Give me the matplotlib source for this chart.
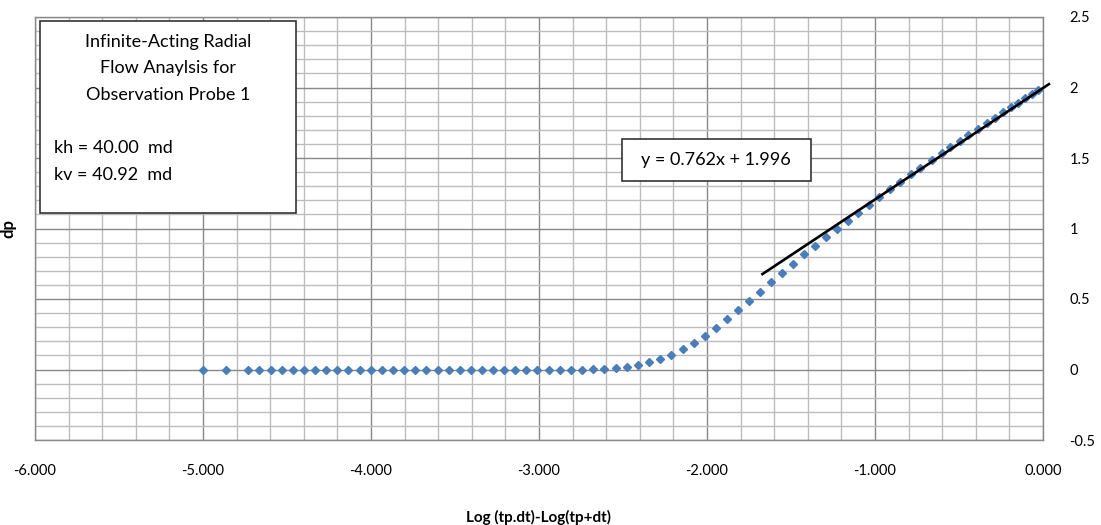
import numpy as np
import matplotlib.pyplot as plt
from matplotlib.patches import Rectangle
from matplotlib.ticker import MultipleLocator, FormatStrFormatter, FuncFormatter

plt.rcParams['font.family'] = ['Lato', 'DejaVu Sans']

x_flat = [-5.000, -4.863, -4.730, -4.664, -4.597, -4.531, -4.465, -4.399, -4.333,
          -4.266, -4.200, -4.134, -4.068, -4.002, -3.935, -3.869, -3.803, -3.737,
          -3.671, -3.604, -3.538, -3.472, -3.406, -3.340, -3.273, -3.207, -3.141,
          -3.075, -3.009, -2.942, -2.876, -2.810, -2.744, -2.677, -2.611]
y_flat = [0.0] * 33 + [0.003, 0.006]

x_rise = [-2.542, -2.474, -2.409, -2.343, -2.280, -2.212, -2.145, -2.077, -2.012,
          -1.946, -1.883, -1.816, -1.749, -1.684, -1.618, -1.554, -1.488, -1.423,
          -1.357, -1.292, -1.228, -1.163, -1.099, -1.036, -0.974, -0.911, -0.851,
          -0.788, -0.732, -0.663, -0.603, -0.554, -0.494, -0.444, -0.385, -0.335,
          -0.286, -0.236, -0.188, -0.147, -0.107, -0.068, -0.028]
y_rise = [0.012, 0.021, 0.030, 0.052, 0.076, 0.104, 0.142, 0.189, 0.236,
          0.293, 0.358, 0.419, 0.483, 0.550, 0.620, 0.686, 0.750, 0.816,
          0.877, 0.939, 0.998, 1.055, 1.113, 1.168, 1.220, 1.277, 1.328,
          1.388, 1.430, 1.485, 1.535, 1.575, 1.622, 1.662, 1.708, 1.748,
          1.787, 1.825, 1.862, 1.893, 1.925, 1.955, 1.985]

x_pts = np.array(x_flat + x_rise)
y_pts = np.array(y_flat + y_rise)

# trend line as drawn on the chart
trend_x = np.array([-1.67, 0.035])
trend_slope = 0.79
trend_icpt = 1.996
eq_label = 'y = 0.762x + 1.996'

W, H = 1101, 525
fig = plt.figure(figsize=(W / 100, H / 100), dpi=100)
ax = fig.add_axes([35 / W, 85 / H, 1008 / W, 423 / H])

ax.set_xlim(-6, 0)
ax.set_ylim(-0.5, 2.5)
ax.xaxis.set_major_locator(MultipleLocator(1))
ax.xaxis.set_minor_locator(MultipleLocator(0.2))
ax.yaxis.set_major_locator(MultipleLocator(0.5))
ax.yaxis.set_minor_locator(MultipleLocator(0.1))
ax.xaxis.set_major_formatter(FormatStrFormatter('%.3f'))
ax.yaxis.set_major_formatter(FuncFormatter(lambda v, p: '{:g}'.format(v)))

ax.grid(which='minor', color='#bdbdbd', lw=1.0)
ax.grid(which='major', color='#888888', lw=1.0)
ax.set_axisbelow(True)
for s in ax.spines.values():
    s.set_color('#888888')
    s.set_linewidth(1.0)

ax.yaxis.tick_right()
ax.yaxis.set_label_position('left')
ax.tick_params(which='both', length=0)
ax.tick_params(axis='y', pad=19, labelsize=10.5)
ax.tick_params(axis='x', pad=17, labelsize=10.5)

ax.plot(x_pts, y_pts, linestyle='none', marker='D', markersize=4.0,
        color='#4a7ebb', zorder=3)
ax.plot(trend_x, trend_slope * trend_x + trend_icpt, color='black', lw=1.9,
        zorder=4, clip_on=False)

ax.set_xlabel('Log (tp.dt)-Log(tp+dt)', fontsize=11, fontweight='bold')
ax.set_ylabel('dp', fontsize=12, fontweight='bold')
ax.xaxis.set_label_coords(0.5, -0.165)
ax.yaxis.set_label_coords(-0.018, 0.5)

# annotation boxes (figure pixel coordinates)
def fx(px):
    return px / W

def fy(py):
    return 1 - py / H

fig.patches.append(Rectangle((fx(40), fy(213)), fx(296) - fx(40), fy(21) - fy(213),
                             transform=fig.transFigure, facecolor='white',
                             edgecolor='#333333', lw=1.2, zorder=5))
for py, t in zip([42, 68, 95], ['Infinite-Acting Radial', 'Flow Anaylsis for',
                                'Observation Probe 1']):
    fig.text(fx(168), fy(py), t, ha='center', va='center', fontsize=13, zorder=6)
fig.text(fx(54), fy(148), 'kh = 40.00  md', ha='left', va='center', fontsize=13, zorder=6)
fig.text(fx(54), fy(175), 'kv = 40.92  md', ha='left', va='center', fontsize=13, zorder=6)

fig.patches.append(Rectangle((fx(622), fy(181)), fx(811) - fx(622), fy(139) - fy(181),
                             transform=fig.transFigure, facecolor='white',
                             edgecolor='#333333', lw=1.2, zorder=5))
fig.text(fx(716), fy(160), eq_label, ha='center', va='center', fontsize=13, zorder=6)

fig.savefig('out.png', dpi=100)
